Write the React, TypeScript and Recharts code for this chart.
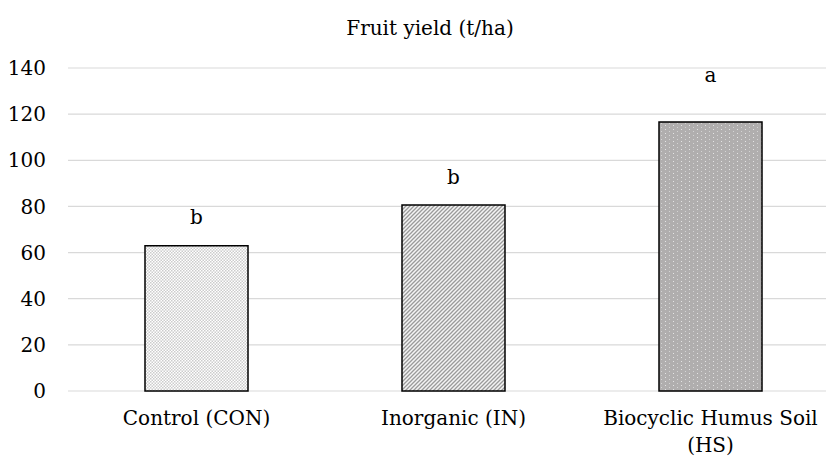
import React from "react";
import { BarChart, Bar, Cell, XAxis, YAxis, CartesianGrid, LabelList } from "recharts";

const categories = ["Control (CON)", "Inorganic (IN)", "Biocyclic Humus Soil (HS)"];
const tickLines = [["Control (CON)"], ["Inorganic (IN)"], ["Biocyclic Humus Soil", "(HS)"]];
const yieldValues = [63, 80.6, 116.6];
const letters = ["b", "b", "a"];
const yTicks = [0, 20, 40, 60, 80, 100, 120, 140];

const data = categories.map((name, i) => ({ name, yield: yieldValues[i], letter: letters[i] }));

const fills = ["url(#dots)", "url(#stripes)", "url(#darkdots)"];
// extra lift above bar for each letter label
const letterLift = [28, 27, 46];

const FONT = "DejaVu Serif, serif";

function XTick(props: any) {
  const { x, y, index } = props;
  const lines = tickLines[index] || [];
  return (
    <text x={x} y={y + 34} textAnchor="middle" fontFamily={FONT} fontSize={20} fill="#000">
      {lines.map((l, i) => (
        <tspan key={i} x={x} dy={i === 0 ? 0 : 27}>
          {l}
        </tspan>
      ))}
    </text>
  );
}

function LetterLabel(props: any) {
  const { x, y, width, value, index } = props;
  return (
    <text
      x={x + width / 2}
      y={y - letterLift[index] + 6}
      textAnchor="middle"
      fontFamily={FONT}
      fontSize={20}
      fill="#000"
    >
      {value}
    </text>
  );
}

export default function App() {
  return (
    <div style={{ position: "absolute", left: 0, top: 0, width: 826, height: 459, overflow: "hidden", background: "#fff" }}>
      <div
        style={{
          position: "absolute",
          left: 0,
          width: 860,
          top: 16,
          textAlign: "center",
          fontFamily: FONT,
          fontSize: 20,
          color: "#000",
        }}
      >
        Fruit yield (t/ha)
      </div>
      <BarChart
        width={845}
        height={459}
        data={data}
        margin={{ top: 68, right: 6, left: 0, bottom: 8 }}
        barCategoryGap={0}
        style={{ position: "absolute", left: 0, top: 0 }}
      >
        <defs>
          <pattern id="dots" width="3" height="3" patternUnits="userSpaceOnUse">
            <rect width="3" height="3" fill="#ffffff" />
            <rect x="0" y="0" width="1.5" height="1.5" fill="#cccccc" />
            <rect x="1.5" y="1.5" width="1.5" height="1.5" fill="#cccccc" />
          </pattern>
          <pattern id="stripes" width="4" height="4" patternUnits="userSpaceOnUse">
            <rect width="4" height="4" fill="#f4f4f4" />
            <path d="M-1,1 l2,-2 M0,4 l4,-4 M3,5 l2,-2" stroke="#9a9a9a" strokeWidth="1.3" />
          </pattern>
          <pattern id="darkdots" width="8" height="4" patternUnits="userSpaceOnUse">
            <rect width="8" height="4" fill="#b0aeae" />
            <rect x="1" y="1" width="1" height="1" fill="#e4e4e4" />
            <rect x="5" y="3" width="1" height="1" fill="#d4d4d4" />
          </pattern>
        </defs>
        <CartesianGrid vertical={false} stroke="#d9d9d9" strokeWidth={1.2} />
        <XAxis
          dataKey="name"
          axisLine={false}
          tickLine={false}
          tickSize={0}
          tickMargin={0}
          height={60}
          interval={0}
          tick={<XTick />}
        />
        <YAxis
          domain={[0, 140]}
          ticks={yTicks}
          axisLine={false}
          tickLine={false}
          tickSize={0}
          tickMargin={22}
          width={68}
          tick={{ fontFamily: FONT, fontSize: 20, fill: "#000" }}
        />
        <Bar dataKey="yield" barSize={103} stroke="#000" strokeWidth={1.5} isAnimationActive={false}>
          {data.map((d, i) => (
            <Cell key={d.name} fill={fills[i]} />
          ))}
          <LabelList dataKey="letter" content={<LetterLabel />} />
        </Bar>
      </BarChart>
    </div>
  );
}
